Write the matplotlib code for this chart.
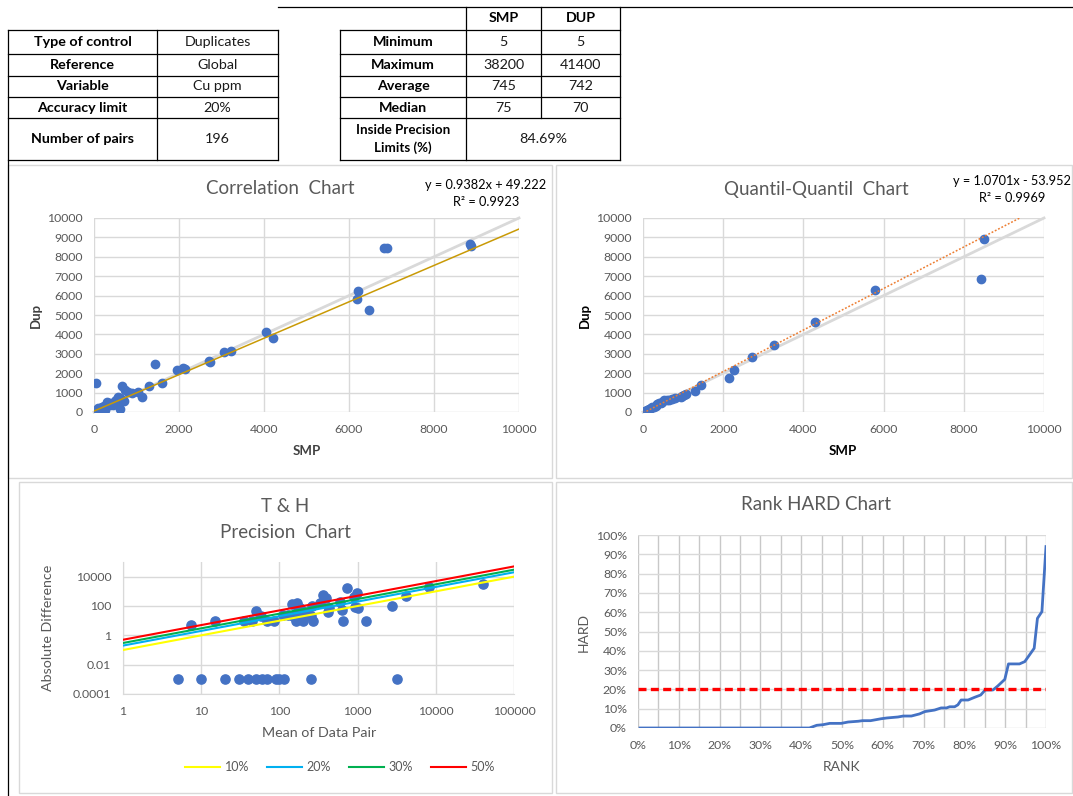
import matplotlib
matplotlib.use("Agg")
import matplotlib.pyplot as plt
import numpy as np
from matplotlib.lines import Line2D
from matplotlib.patches import Rectangle
from matplotlib.ticker import FixedLocator, FuncFormatter

plt.rcParams['font.family'] = ['Lato', 'DejaVu Sans']

# ---------------- data ----------------
left_labels = ["Type of control", "Reference", "Variable", "Accuracy limit", "Number of pairs"]
left_values = ["Duplicates", "Global", "Cu ppm", "20%", "196"]
stat_header = ["SMP", "DUP"]
stat_labels = ["Minimum", "Maximum", "Average", "Median"]
smp_stats = ["5", "38200", "745", "75"]
dup_stats = ["5", "41400", "742", "70"]
inside_label = "Inside Precision\nLimits (%)"
inside_value = "84.69%"

# correlation chart (SMP vs DUP)
corr_smp = [5, 10, 15, 20, 25, 30, 40, 50, 60, 75, 80, 100, 120, 150, 180, 200, 230, 260,
            300, 350, 380, 420, 450, 500, 510, 550, 570, 600, 610, 650, 670, 700, 730, 790,
            890, 1040, 1140, 1290, 1435, 1590, 1945, 2100, 2150, 2700, 2720, 3050, 3230,
            4050, 4200, 6180, 6200, 6480, 6830, 6900, 8850, 8870, 38200]
corr_dup = [5, 15, 10, 25, 20, 40, 1480, 60, 45, 80, 120, 190, 90, 210, 270, 150, 310, 100,
            530, 480, 360, 450, 360, 560, 620, 400, 790, 720, 155, 600, 1340, 560, 1130, 1050,
            1000, 1050, 760, 1340, 2450, 1500, 2180, 2270, 2200, 2630, 2600, 3080, 3150,
            4100, 3830, 5800, 6250, 5250, 8430, 8470, 8650, 8560, 41400]
corr_fit = [0.9382, 49.222]
corr_r2 = 0.9923

# quantile-quantile chart
qq_smp = [5, 20, 40, 66, 100, 150, 200, 233, 280, 316, 360, 399, 450, 484, 524, 600, 648,
          731, 800, 939, 983, 1022, 1064, 1297, 1455, 2136, 2269, 2727, 3267, 4289, 5786,
          8420, 8512, 38200]
qq_dup = [5, 15, 40, 75, 104, 150, 190, 240, 276, 320, 397, 440, 484, 530, 604, 620, 640,
          680, 708, 760, 829, 870, 950, 1090, 1390, 1745, 2150, 2815, 3454, 4646, 6287,
          6839, 8895, 41400]
qq_fit = [1.0701, -53.952]
qq_r2 = 0.9969

# T & H precision chart: mean of pair vs absolute difference (0 plotted as 0.001)
th_mean = [5, 10, 20, 30, 40, 50, 60, 70, 90, 100, 115, 250, 3200,
           7.5, 15, 35, 45, 50, 57.5, 70, 85, 110, 130, 145, 150, 160, 165, 170, 175, 185,
           195, 200, 210, 250, 265, 270, 330, 365, 400, 420, 430, 600, 635, 650, 740, 890,
           920, 980, 1000, 1270, 2770, 4100, 8100, 39800]
th_absdiff = [0.001, 0.001, 0.001, 0.001, 0.001, 0.001, 0.001, 0.001, 0.001, 0.001, 0.001,
              0.001, 0.001,
              5, 10, 10, 10, 45, 20, 10, 10, 25, 25, 130, 20, 30, 10, 150, 45, 70,
              30, 10, 40, 20, 100, 10, 150, 550, 330, 40, 70, 200, 55, 10, 1600, 430,
              90, 730, 70, 10, 100, 480, 1870, 3200]
th_limits = [0.10, 0.20, 0.30, 0.50]
th_labels = ["10%", "20%", "30%", "50%"]
th_colors = ["#FFFF00", "#00B0F0", "#00B050", "#FF0000"]

# Rank HARD chart
rank_x = [0.0051, 0.42, 0.438, 0.453, 0.47, 0.498, 0.515, 0.54, 0.55, 0.57, 0.596, 0.61,
          0.637, 0.65, 0.67, 0.69, 0.703, 0.727, 0.743, 0.756, 0.764, 0.776, 0.784, 0.792,
          0.809, 0.825, 0.84, 0.851, 0.87, 0.882, 0.899, 0.908, 0.935, 0.948, 0.971, 0.979,
          0.99, 1.0]
rank_hard = [0, 0, 0.014, 0.017, 0.024, 0.024, 0.031, 0.035, 0.038, 0.038, 0.048, 0.052,
             0.057, 0.062, 0.062, 0.073, 0.085, 0.093, 0.104, 0.104, 0.11, 0.11, 0.12, 0.145,
             0.145, 0.159, 0.171, 0.197, 0.197, 0.218, 0.252, 0.332, 0.332, 0.344, 0.413,
             0.568, 0.603, 0.94]
accuracy_limit = 0.20

# ---------------- figure ----------------
W, H = 1073, 796
fig = plt.figure(figsize=(W / 100, H / 100), dpi=100)
fig.patch.set_facecolor("white")

def rect(l, t, r, b):
    return [l / W, 1 - b / H, (r - l) / W, (b - t) / H]

ov = fig.add_axes([0, 0, 1, 1], zorder=0)
ov.set_xlim(0, W)
ov.set_ylim(H, 0)
ov.axis("off")

TXT = "#595959"
GRID = "#D9D9D9"
BLUE = "#4472C4"
TICK_FS = 8.8

def hline(y, x0, x1, c="black", lw=0.9):
    ov.add_line(Line2D([x0, x1], [y, y], color=c, lw=lw))

def vline(x, y0, y1, c="black", lw=0.9):
    ov.add_line(Line2D([x, x], [y0, y1], color=c, lw=lw))

# panel borders
for (l, t, r, b) in [(8, 165, 552, 478), (556, 165, 1072, 478), (19, 482, 552, 793), (556, 482, 1072, 793)]:
    ov.add_patch(Rectangle((l, t), r - l, b - t, fill=False, ec=GRID, lw=1))

# ---- tables ----
rows_y = [30, 54, 76, 97, 118, 160]
lx0, lx1, lx2 = 8, 157, 278
for y in rows_y:
    hline(y, lx0, lx2)
vline(lx0, 30, 796)
vline(lx1, 30, 160)
vline(lx2, 30, 160)
TFS = 10.3
for i, (lab, val) in enumerate(zip(left_labels, left_values)):
    yc = (rows_y[i] + rows_y[i + 1]) / 2
    ov.text((lx0 + lx1) / 2, yc, lab, ha="center", va="center", fontsize=TFS, fontweight="bold", color="black")
    ov.text((lx1 + lx2) / 2, yc, val, ha="center", va="center", fontsize=TFS, color="#1a1a1a")

rx = [340, 466, 541, 620]
hline(7, 278, 1073)
for y in rows_y:
    hline(y, rx[0], rx[3])
vline(rx[0], 30, 160)
vline(rx[1], 7, 160)
vline(rx[2], 7, 118)
vline(rx[3], 7, 160)
for j, hd in enumerate(stat_header):
    ov.text((rx[1 + j] + rx[2 + j]) / 2, 18.5, hd, ha="center", va="center", fontsize=TFS, fontweight="bold")
for i, lab in enumerate(stat_labels):
    yc = (rows_y[i] + rows_y[i + 1]) / 2
    ov.text((rx[0] + rx[1]) / 2, yc, lab, ha="center", va="center", fontsize=TFS, fontweight="bold")
    ov.text((rx[1] + rx[2]) / 2, yc, smp_stats[i], ha="center", va="center", fontsize=TFS, color="#1a1a1a")
    ov.text((rx[2] + rx[3]) / 2, yc, dup_stats[i], ha="center", va="center", fontsize=TFS, color="#1a1a1a")
ov.text((rx[0] + rx[1]) / 2, 139, inside_label, ha="center", va="center", fontsize=9.6,
        fontweight="bold", linespacing=1.45)
ov.text((rx[1] + rx[3]) / 2, 139, inside_value, ha="center", va="center", fontsize=TFS, color="#1a1a1a")

# ---- helpers ----
def style(ax, xpad=8, ypad=8):
    for s in ax.spines.values():
        s.set_visible(False)
    ax.tick_params(length=0, labelsize=TICK_FS, labelcolor=TXT)
    ax.tick_params(axis="x", pad=xpad)
    ax.tick_params(axis="y", pad=ypad)
    ax.grid(True, color=GRID, lw=1)
    ax.set_axisbelow(True)

# ---- correlation chart ----
ax1 = fig.add_axes(rect(94, 218, 519, 412), zorder=1)
style(ax1, xpad=8.5, ypad=8)
ax1.set_xlim(0, 10000)
ax1.set_ylim(0, 10000)
ax1.set_xticks(np.arange(0, 10001, 2000))
ax1.set_yticks(np.arange(0, 10001, 1000))
ax1.plot([0, 10000], [0, 10000], color="#D9D9D9", lw=2, zorder=2, clip_on=False)
ax1.scatter(corr_smp, corr_dup, s=36, color=BLUE, zorder=3)
xs = np.array([min(corr_smp), max(corr_smp)], dtype=float)
ax1.plot(xs, corr_fit[0] * xs + corr_fit[1], color="#C99A06", lw=1.1, zorder=4)
ov.text(280, 189, "Correlation  Chart", ha="center", va="center", fontsize=13.5, color=TXT)
ov.text(486, 185, "y = %.4fx + %.3f" % (corr_fit[0], corr_fit[1]), ha="center", va="center", fontsize=9.2, color="black")
ov.text(486, 202, "R² = %.4f" % corr_r2, ha="center", va="center", fontsize=9.2, color="black")
ov.text(307, 451, "SMP", ha="center", va="center", fontsize=9.5, fontweight="bold", color="#404040")
ov.text(36, 315, "Dup", ha="center", va="center", fontsize=9.5, fontweight="bold", color="#404040", rotation=90)

# ---- QQ chart ----
ax2 = fig.add_axes(rect(643, 218, 1044, 412), zorder=1)
style(ax2, xpad=8.5, ypad=8)
ax2.set_xlim(0, 10000)
ax2.set_ylim(0, 10000)
ax2.set_xticks(np.arange(0, 10001, 2000))
ax2.set_yticks(np.arange(0, 10001, 1000))
ax2.plot([0, 10000], [0, 10000], color="#D9D9D9", lw=2, zorder=2, clip_on=False)
ax2.scatter(qq_smp, qq_dup, s=36, color=BLUE, zorder=3)
xs = np.array([min(qq_smp), max(qq_smp)], dtype=float)
ax2.plot(xs, qq_fit[0] * xs + qq_fit[1], color="#ED7D31", lw=1.1, ls=(0, (1.2, 1.2)), zorder=4)
ov.text(816, 189, "Quantil-Quantil  Chart", ha="center", va="center", fontsize=13.5, color=TXT)
ov.text(1012, 181, "y = %.4fx - %.3f" % (qq_fit[0], -qq_fit[1]), ha="center", va="center", fontsize=9.2, color="black")
ov.text(1012, 198, "R² = %.4f" % qq_r2, ha="center", va="center", fontsize=9.2, color="black")
ov.text(843, 451, "SMP", ha="center", va="center", fontsize=9.5, fontweight="bold", color="black")
ov.text(585, 315, "Dup", ha="center", va="center", fontsize=9.5, fontweight="bold", color="black", rotation=90)

# ---- T & H precision chart ----
ax3 = fig.add_axes(rect(123, 562, 514, 694), zorder=1)
style(ax3, xpad=8.5, ypad=8.5)
ax3.set_xscale("log")
ax3.set_yscale("log")
ax3.set_xlim(1, 1e5)
ax3.set_ylim(1e-4, 1e5)
ax3.xaxis.set_major_locator(FixedLocator([1, 10, 100, 1000, 1e4, 1e5]))
ax3.yaxis.set_major_locator(FixedLocator([1e-4, 1e-2, 1, 100, 1e4]))
ax3.xaxis.set_minor_locator(FixedLocator([]))
ax3.yaxis.set_minor_locator(FixedLocator([]))
fmt = FuncFormatter(lambda v, p: ("%g" % v) if v < 1 else "%d" % round(v))
ax3.xaxis.set_major_formatter(fmt)
ax3.yaxis.set_major_formatter(fmt)
ax3.spines["left"].set_visible(True)
ax3.spines["bottom"].set_visible(True)
ax3.spines["left"].set_color(GRID)
ax3.spines["bottom"].set_color(GRID)
ax3.scatter(th_mean, th_absdiff, s=44, color=BLUE, zorder=3)
xl = np.array([1, 1e5])
handles = []
for p, lab, c in zip(th_limits, th_labels, th_colors):
    h, = ax3.plot(xl, p * xl, color=c, lw=1.5, zorder=4, label=lab)
    handles.append(h)
fig.legend(handles=handles, loc="center", bbox_to_anchor=(340 / W, 1 - 767 / H), ncol=4,
           frameon=False, fontsize=9, labelcolor=TXT, handlelength=2.8, columnspacing=1.4,
           handletextpad=0.4)
ov.text(285, 507, "T & H", ha="center", va="center", fontsize=13.5, color=TXT)
ov.text(285, 533, "Precision  Chart", ha="center", va="center", fontsize=13.5, color=TXT)
ov.text(319, 733, "Mean of Data Pair", ha="center", va="center", fontsize=10.3, color=TXT)
ov.text(48, 628, "Absolute Difference", ha="center", va="center", fontsize=10.3, color=TXT, rotation=90)

# ---- Rank HARD chart ----
ax4 = fig.add_axes(rect(638, 535, 1046, 728), zorder=1)
style(ax4, xpad=8.5, ypad=8)
ax4.set_xlim(0, 1)
ax4.set_ylim(0, 1)
ax4.set_xticks(np.arange(0, 1.001, 0.1))
ax4.set_yticks(np.arange(0, 1.001, 0.1))
ax4.set_xticks(np.arange(0.05, 1.0, 0.1), minor=True)
ax4.tick_params(which="minor", length=0)
ax4.grid(True, which="both", axis="x", color="#C8C8C8", lw=1)
ax4.grid(True, axis="y", color=GRID, lw=1)
pct = FuncFormatter(lambda v, p: "%d%%" % round(v * 100))
ax4.xaxis.set_major_formatter(pct)
ax4.yaxis.set_major_formatter(pct)
ax4.plot(rank_x, rank_hard, color=BLUE, lw=2, zorder=3)
ax4.plot([0, 1], [accuracy_limit, accuracy_limit], color="#FF0000", lw=2.4,
         ls=(0, (2.4, 1.3)), zorder=4)
ov.text(816, 505, "Rank HARD Chart", ha="center", va="center", fontsize=13.5, color=TXT)
ov.text(842, 767, "RANK", ha="center", va="center", fontsize=10, color=TXT)
ov.text(584, 632, "HARD", ha="center", va="center", fontsize=10, color=TXT, rotation=90)

fig.savefig("out.png", dpi=100, facecolor="white")
